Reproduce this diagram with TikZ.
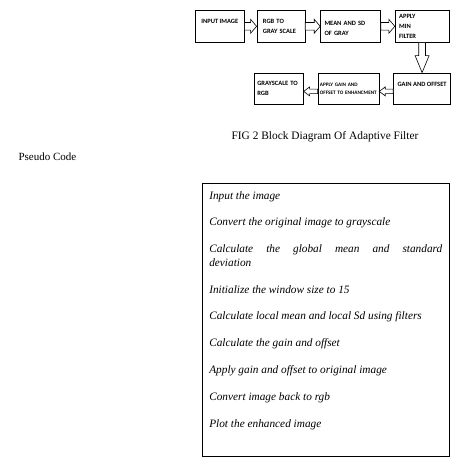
\documentclass[tikz,border=0pt]{standalone}
\usepackage{fontspec}
\setmainfont{Liberation Serif}[ItalicFont=Liberation Serif Italic]
\setsansfont{Carlito}
\usetikzlibrary{positioning,calc}

\begin{document}
\begin{tikzpicture}[x=1pt, y=1pt,
    blk/.style={draw, line width=0.6pt, minimum height=32pt, inner xsep=4pt, align=left,
      font=\sffamily\bfseries\fontsize{6.5}{10}\selectfont},
    bigarrow/.style n args={3}{draw, line width=0.6pt, fill=white, to path={
      ($(\tikztotarget)!#3!(\tikztostart)$) coordinate (hb)
      ($(\tikztostart)!#1!90:(\tikztotarget)$) -- ($(hb)!#1!90:(\tikztotarget)$)
      -- ($(hb)!#2!90:(\tikztotarget)$) -- (\tikztotarget)
      -- ($(hb)!#2!-90:(\tikztotarget)$) -- ($(hb)!#1!-90:(\tikztotarget)$)
      -- ($(\tikztostart)!#1!-90:(\tikztotarget)$) -- cycle}}]
    \useasboundingbox (0,0) rectangle (471,-457);

    \node[blk, minimum width=49pt, text depth=10pt, anchor=north west] (in) at (195,-10) {INPUT IMAGE};
    \node[blk, text width=36pt, inner xsep=6pt, right=12pt of in] (rgb) {RGB TO\\GRAY SCALE};
    \node[blk, text width=52pt, text depth=5pt, right=15pt of rgb] (mean) {MEAN AND SD\\OF GRAY};
    \node[blk, text width=46pt, right=14pt of mean] (minf) {APPLY\\MIN\\FILTER};
    \node[blk, minimum width=54pt, minimum height=31pt, text depth=9pt, below=30pt of minf] (gain) {GAIN AND OFFSET};
    \node[blk, text width=57pt, inner xsep=2pt, minimum height=31pt, left=14pt of gain,
      font=\sffamily\bfseries\fontsize{5.2}{8}\selectfont] (apply) {APPLY GAIN AND\\OFFSET TO ENHANCMENT};
    \node[blk, text width=43pt, inner xsep=3pt, minimum height=31pt, left=14pt of apply] (g2rgb) {GRAYSCALE TO\\RGB};

    \draw[bigarrow={3.8pt}{7pt}{6pt}] (in.east) to (rgb.west);
    \draw[bigarrow={3.8pt}{7pt}{6pt}] (rgb.east) to (mean.west);
    \draw[bigarrow={3.8pt}{7pt}{6pt}] (mean.east) to (minf.west);
    \draw[bigarrow={3.4pt}{7pt}{17pt}] (minf.south) to (gain.north);
    \draw[bigarrow={2.2pt}{4.5pt}{6pt}] ([yshift=-3pt]gain.west) to ([yshift=-3pt]apply.east);
    \draw[bigarrow={2.2pt}{4.5pt}{6pt}] ([yshift=-3pt]apply.west) to ([yshift=-3pt]g2rgb.east);

    \node[font=\fontsize{11.4}{13}\selectfont] (cap) at (325,-137) {FIG 2 Block Diagram Of Adaptive Filter};
    \node[anchor=base west, font=\fontsize{11}{13}\selectfont] (pc) at (15,-161) {Pseudo Code};

    \node[draw, line width=0.6pt, anchor=north west, text width=233pt, inner xsep=7pt, inner ysep=8pt,
      align=justify, font=\fontsize{11.3}{13.5}\selectfont\itshape] (code) at (202,-183) {%
      Input the image\\[13.3pt]
      Convert the original image to grayscale\\[13.3pt]
      Calculate the global mean and standard\linebreak deviation\\[13.3pt]
      Initialize the window size to 15\\[13.3pt]
      Calculate local mean and local Sd using filters\\[13.3pt]
      Calculate the gain and offset\\[13.3pt]
      Apply gain and offset to original image\\[13.3pt]
      Convert image back to rgb\\[13.3pt]
      Plot the enhanced image\\[7.5pt]\mbox{}};
\end{tikzpicture}
\end{document}
